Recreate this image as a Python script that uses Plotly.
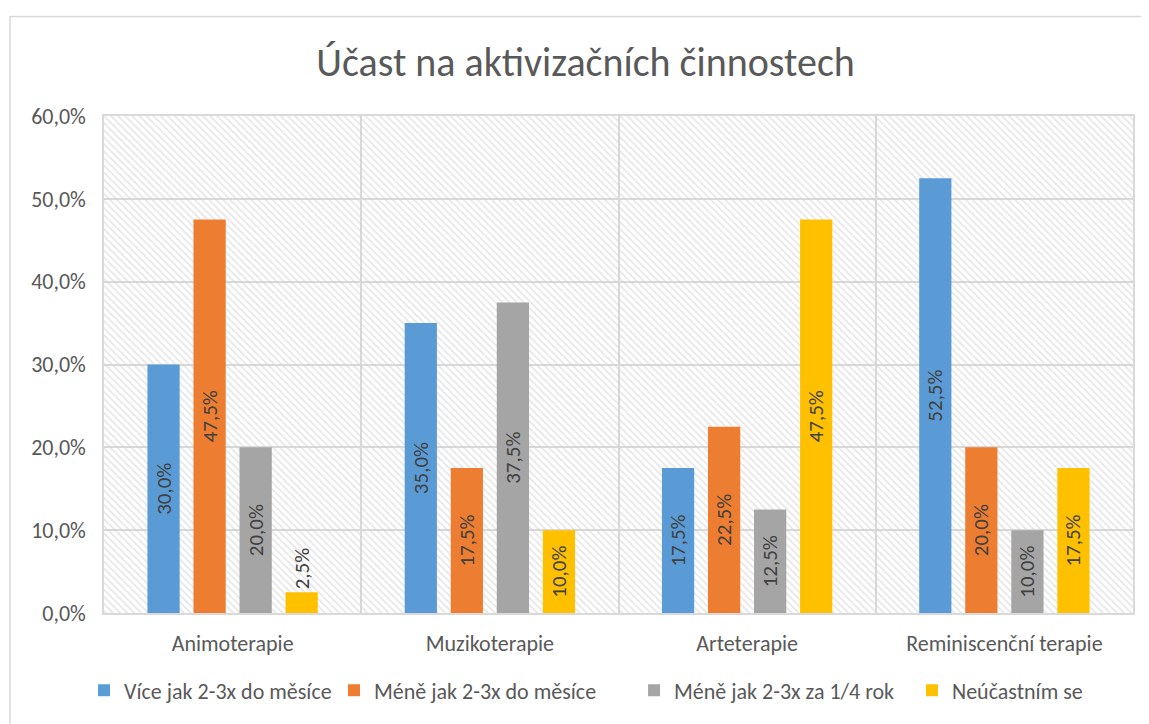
import plotly.graph_objects as go

categories = ["Animoterapie", "Muzikoterapie", "Arteterapie", "Reminiscenční terapie"]
series_names = [
    "Více jak 2-3x do měsíce",
    "Méně jak 2-3x do měsíce",
    "Méně jak 2-3x za 1/4 rok",
    "Neúčastním se",
]
vice_mesic = [30.0, 35.0, 17.5, 52.5]
mene_mesic = [47.5, 17.5, 22.5, 20.0]
mene_ctvrtrok = [20.0, 37.5, 12.5, 10.0]
neucastnim = [2.5, 10.0, 47.5, 17.5]
y_ticks = [0, 10, 20, 30, 40, 50, 60]
y_ticktext = [f"{v:.1f}%".replace(".", ",") for v in y_ticks]

colours = ["#5B9BD5", "#ED7D31", "#A5A5A5", "#FFC000"]
font_family = "Calibri, Carlito, Lato, sans-serif"
grid_col = "#d9d9d9"
text_col = "#404040"

# one small legend per series so the entries can sit where Excel put them
legend_ids = ["legend", "legend2", "legend3", "legend4"]
legend_x = [-0.0194, 0.2235, 0.5151, 0.7852]

fig = go.Figure()

# hatched plot background: one bar filling the whole plot area on a hidden axis
fig.add_trace(go.Bar(
    x=[0.5], y=[max(y_ticks)], width=[1],
    xaxis="x", yaxis="y",
    marker=dict(color="rgba(0,0,0,0)", line_width=0,
                pattern=dict(shape="\\", size=5, solidity=0.35,
                             fgcolor="#d0d0d0", bgcolor="rgba(0,0,0,0)")),
    showlegend=False, hoverinfo="skip",
))

for name, vals, col, leg in zip(series_names, [vice_mesic, mene_mesic, mene_ctvrtrok, neucastnim],
                                colours, legend_ids):
    fig.add_trace(go.Bar(
        x=categories, y=vals, name=name,
        xaxis="x2", yaxis="y", legend=leg,
        marker=dict(color=col, line_width=0),
        texttemplate="%{y:.1f}%",
        textposition="auto",
        textangle=-90,
        insidetextanchor="middle",
        constraintext="none",
        textfont=dict(family=font_family, size=21, color=text_col),
        outsidetextfont=dict(family=font_family, size=21, color=text_col),
        cliponaxis=False,
    ))

fig.update_layout(
    width=1141, height=716,
    margin=dict(l=96, r=16, t=108, b=109),
    paper_bgcolor="white", plot_bgcolor="white",
    separators=",.",
    font=dict(family=font_family, size=22, color="#595959"),
    barmode="group", bargap=0.284, bargroupgap=0.30,
    title=dict(text="Účast na aktivizačních činnostech",
               font=dict(family=font_family, size=40, color="#595959"),
               x=0.468, xref="paper", xanchor="center",
               y=0.9246, yref="container", yanchor="middle"),
    xaxis=dict(range=[0, 1], visible=False, showgrid=False, fixedrange=True),
    xaxis2=dict(overlaying="x", anchor="y", side="bottom",
                type="category", tickson="boundaries", ticks="",
                showgrid=True, gridcolor=grid_col, gridwidth=1.5,
                showline=True, linecolor=grid_col, linewidth=1.5, mirror=True,
                ticklabelstandoff=10,
                tickfont=dict(size=22, color="#595959")),
    yaxis=dict(range=[0, 60], tickvals=y_ticks, ticktext=y_ticktext,
               showgrid=True, gridcolor=grid_col, gridwidth=1.5,
               showline=True, linecolor=grid_col, linewidth=1.5, mirror=True,
               zeroline=False, ticks="", ticklabelstandoff=12,
               tickfont=dict(size=22, color="#595959")),
    shapes=[dict(type="rect", xref="paper", yref="paper",
                 x0=-0.0913, x1=1.05, y0=-0.3, y1=1.2004,
                 line=dict(color="#d9d9d9", width=1.5),
                 fillcolor="rgba(0,0,0,0)", layer="below")],
)

for leg, lx in zip(legend_ids, legend_x):
    fig.update_layout({leg: dict(orientation="h", x=lx, xanchor="left", xref="paper",
                                 y=-0.156, yanchor="middle", bgcolor="rgba(0,0,0,0)",
                                 font=dict(size=22, color="#595959"), itemwidth=30)})

fig.write_html("out.html")
